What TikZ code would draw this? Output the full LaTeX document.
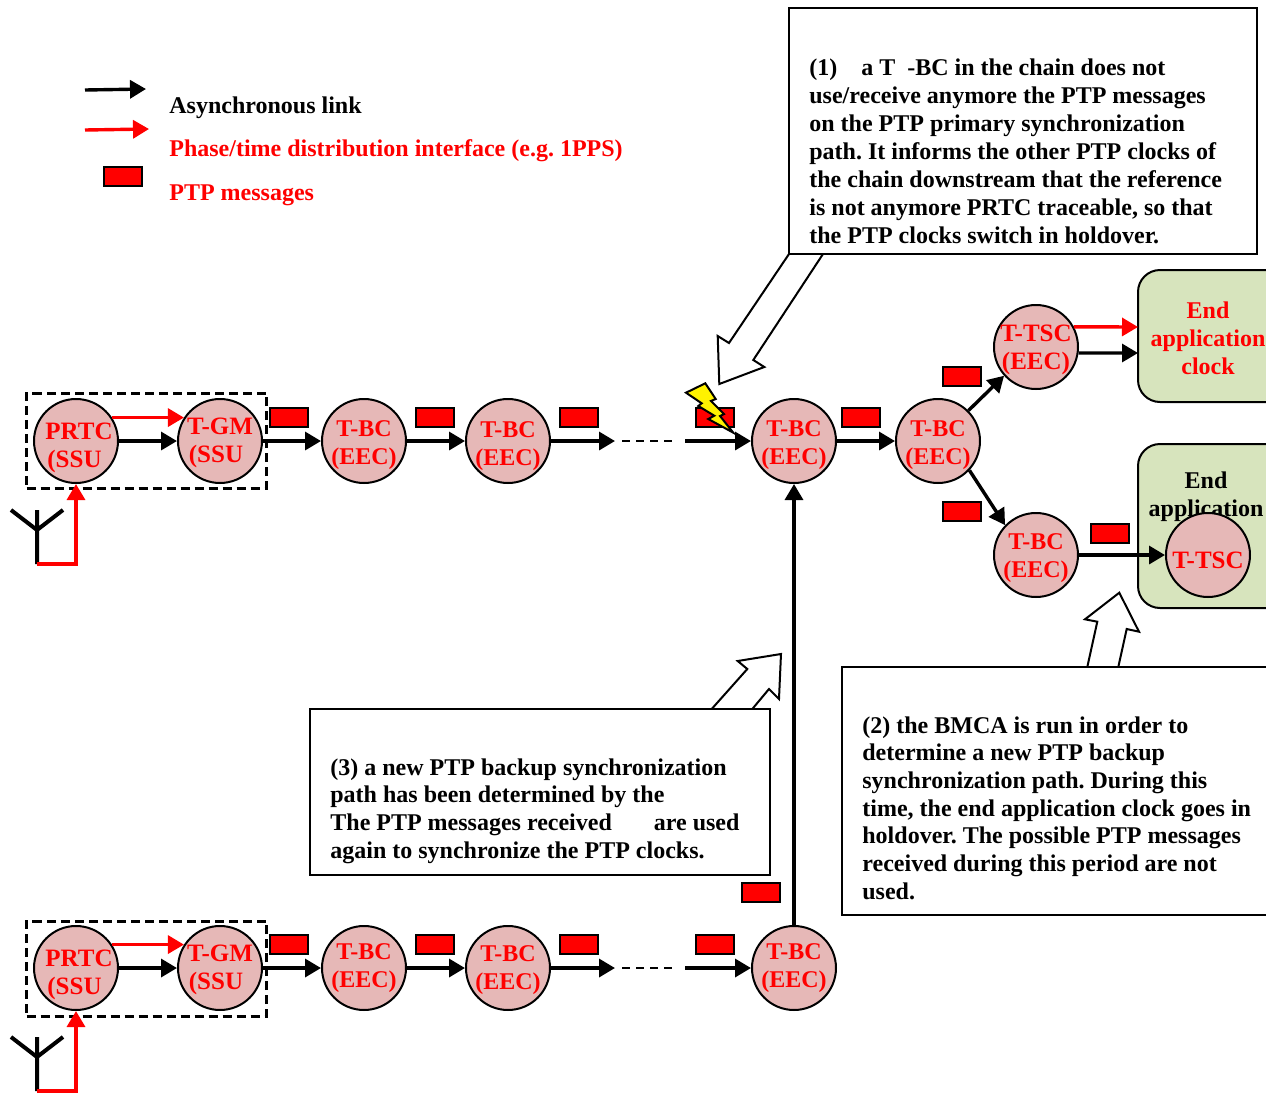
\documentclass[tikz,border=0pt]{standalone}
\usepackage{fontspec}
\setmainfont{Liberation Serif}
\usetikzlibrary{arrows.meta}
\newcommand{\clocktext}[3][0pt]{\parbox{10pt}{\vspace*{#1}\baselineskip=14pt\centerline{#2}\centerline{#3}}}
\begin{document}
\frenchspacing
\begin{tikzpicture}[
   x=0.5pt,y=-0.5pt,
   font=\bfseries\fontsize{12}{14}\selectfont,
   clock/.style={draw,circle,line width=1pt,fill=pinkfill,text=red,minimum size=42pt,inner sep=0pt},
   wide/.style={font=\bfseries\fontsize{12.5}{14}\selectfont},
   endbox/.style={draw,line width=1pt,rounded corners=11pt,fill=greenfill,anchor=north west,inner sep=0pt},
   packet/.style={draw,fill=red,line width=1pt,minimum width=19pt,minimum height=9.5pt,inner sep=0pt},
   note/.style={draw,line width=1pt,fill=white,anchor=north west,inner sep=0pt},
   notetext/.style={anchor=north west,align=left,inner sep=0pt},
   tight/.style={font=\bfseries\fontsize{12}{13.83}\selectfont},
   syncbox/.style={draw,dash pattern=on 4.5pt off 2.5pt,line width=1.5pt,minimum width=120pt,minimum height=47.5pt,inner sep=0pt},
   to/.style={-{Triangle[length=8pt,width=9pt]},line width=1.7pt},
   redto/.style={to,red},
   gap/.style={line width=1.2pt,dash pattern=on 4pt off 3pt},
   hollow/.style={draw,line width=1pt,fill=white},
   every node/.style={}]
\definecolor{pinkfill}{HTML}{E6B8B7}
\definecolor{greenfill}{HTML}{D7E4BD}
\useasboundingbox (0,0) rectangle (1266,1093);
\clip (0,0) rectangle (1266,1093);
% legend
\coordinate (la) at (85,90);
\coordinate (lb) at (146,89);
\coordinate (lc) at (85,130);
\coordinate (ld) at (149,129);
\draw[to] (la) -- (lb);
\draw[redto] (lc) -- (ld);
\node[packet] (legendpkt) at (123,176) {};
\node[anchor=west,inner sep=0pt] (lt1) at (169,108) {Asynchronous link};
\node[anchor=west,inner sep=0pt,text=red] (lt2) at (169,151) {Phase/time distribution interface (e.g. 1PPS)};
\node[anchor=west,inner sep=0pt,text=red] (lt3) at (169,195.5) {PTP messages};
% dashed boxes
\node[syncbox] (sync1) at (146.5,440.5) {};
\node[syncbox] (sync2) at (146.5,968.5) {};
% end application boxes
\node[endbox,minimum width=80pt,minimum height=66pt] (app1) at (1137,269) {};
\node[endbox,minimum width=80pt,minimum height=82pt] (app2) at (1137,443) {};
\node[text=red,align=center,inner sep=0pt] (app1t) at (1208,338.5) {End\\application\\clock};
\node[align=center,inner sep=0pt] (app2t) at (1206,497) {End\\application};
% upper chain
\node[clock,wide] (PRTC1) at (76,441) {\clocktext[7pt]{\hspace{3pt}PRTC}{(SSU\hspace{1.5pt}}};
\node[clock,wide] (GM1) at (220,441) {\clocktext[2pt]{T-GM}{(SSU\hspace{4pt}}};
\node[clock] (BC1) at (364,441) {\clocktext[4pt]{T-BC}{(EEC)}};
\node[clock] (BC2) at (508,441) {\clocktext[5pt]{T-BC}{(EEC)}};
\node[clock] (BC3) at (794,441) {\clocktext[4pt]{T-BC}{(EEC)}};
\node[clock] (BC4) at (938,441) {\clocktext[4pt]{T-BC}{(EEC)}};
\node[clock,wide] (TSC1) at (1036,347) {\clocktext[3pt]{T-TSC}{(EEC)}};
\node[clock] (BC5) at (1036,555) {\clocktext[3pt]{T-BC}{(EEC)}};
\node[clock,wide] (TSC2) at (1208,555) {\parbox{10pt}{\vspace*{5pt}\centerline{T-TSC}}};
% lower chain
\node[clock,wide] (PRTC2) at (76,968) {\clocktext[7pt]{\hspace{3pt}PRTC}{(SSU\hspace{1.5pt}}};
\node[clock,wide] (GM2) at (220,968) {\clocktext[2pt]{T-GM}{(SSU\hspace{4pt}}};
\node[clock] (BC6) at (364,968) {\clocktext{T-BC}{(EEC)}};
\node[clock] (BC7) at (508,968) {\clocktext[2pt]{T-BC}{(EEC)}};
\node[clock] (BC8) at (794,968) {\clocktext{T-BC}{(EEC)}};
% packets
\foreach \n/\x/\y in {a/289/417.5,b/435/417.5,c/579/417.5,d/715/417.5,e/861/417.5,f/962/376.5,g/962/511.5,h/1110/533.5,i/289/944.5,j/435/944.5,k/579/944.5,l/715/944.5,m/761/892.5}
   \node[packet] (pkt\n) at (\x,\y) {};
% upper links
\coordinate (gap1) at (615,441);
\coordinate (gap2) at (622,441);
\coordinate (gap3) at (672,441);
\coordinate (gap4) at (685,441);
\draw[to] (PRTC1) -- (GM1);
\draw[redto] (PRTC1.33) -- (GM1.147);
\draw[to] (GM1) -- (BC1);
\draw[to] (BC1) -- (BC2);
\draw[to] (BC2) -- (gap1);
\draw[gap] (gap2) -- (gap3);
\draw[to] (gap4) -- (BC3);
\draw[to] (BC3) -- (BC4);
\draw[to] (BC4.45) -- (TSC1.222);
\draw[to] (BC4.-43) -- (BC5.136);
\draw[to] (BC5) -- (TSC2);
\coordinate (tsca) at (1138,327);
\coordinate (tscb) at (1138,353);
\draw[redto] (TSC1.28) -- (tsca);
\draw[to] (TSC1.-8) -- (tscb);
\draw[to] (BC8) -- (BC3);
% lower links
\coordinate (gap5) at (615,968);
\coordinate (gap6) at (622,968);
\coordinate (gap7) at (672,968);
\coordinate (gap8) at (685,968);
\draw[to] (PRTC2) -- (GM2);
\draw[redto] (PRTC2.33) -- (GM2.147);
\draw[to] (GM2) -- (BC6);
\draw[to] (BC6) -- (BC7);
\draw[to] (BC7) -- (gap5);
\draw[gap] (gap6) -- (gap7);
\draw[to] (gap8) -- (BC8);
% antennas
\coordinate (ant1) at (37,564);
\coordinate (ant2) at (37,1091);
\draw[line width=2pt] (37,510) -- (ant1) (11,510) -- (37,530) -- (63,510);
\draw[line width=2pt] (37,1037) -- (ant2) (11,1037) -- (37,1057) -- (63,1037);
\draw[redto] (ant1) -| (PRTC1.south);
\draw[redto] (ant2) -| (PRTC2.south);
% block arrows and notes
\draw[hollow] (789,254) -- (729,343) -- (717.7,336) -- (719.3,384) -- (764.3,367) -- (753.3,360) -- (823,254);
\draw[hollow] (1087.3,667) -- (1097.3,621.7) -- (1085,619.3) -- (1119.3,592.7) -- (1139,631.7) -- (1126.7,629) -- (1118.3,667);
\draw[hollow] (711.7,709) -- (747.3,669) -- (737.7,661) -- (781,654) -- (779,699) -- (769,689) -- (752.3,709);
\node[note,minimum width=234pt,minimum height=123pt] (note1) at (788,7) {};
\node[note,minimum width=230pt,minimum height=83pt] (note3) at (309,708) {};
\node[note,minimum width=230pt,minimum height=124pt] (note2) at (841,666) {};
\node[notetext] (note1t) at (809,58) {(1)\hspace{1em}a T\hspace{0.5em}-BC in the chain does not\\use/receive anymore the PTP messages\\on the PTP primary synchronization\\path. It informs the other PTP clocks of\\the chain downstream that the reference\\is not anymore PRTC traceable, so that\\the PTP clocks switch in holdover.};
\node[notetext,tight] (note2t) at (862,716) {(2) the BMCA is run in order to\\determine a new PTP backup\\synchronization path. During this\\time, the end application clock goes in\\holdover. The possible PTP messages\\received during this period are not\\used.};
\node[notetext,tight] (note3t) at (330,758) {(3) a new PTP backup synchronization\\path has been determined by the\\The PTP messages received\hspace{1.75em}are used\\again to synchronize the PTP clocks.};
% fault
\draw[line width=1pt,fill=yellow] (686,392.7) -- (705.3,383.3) -- (715.7,399) -- (711,401) -- (724,414) -- (720,416) -- (733.3,432.7) -- (708.3,419) -- (714.3,415.7) -- (698.3,406) -- (701.7,403.3) -- cycle;
\end{tikzpicture}
\end{document}
